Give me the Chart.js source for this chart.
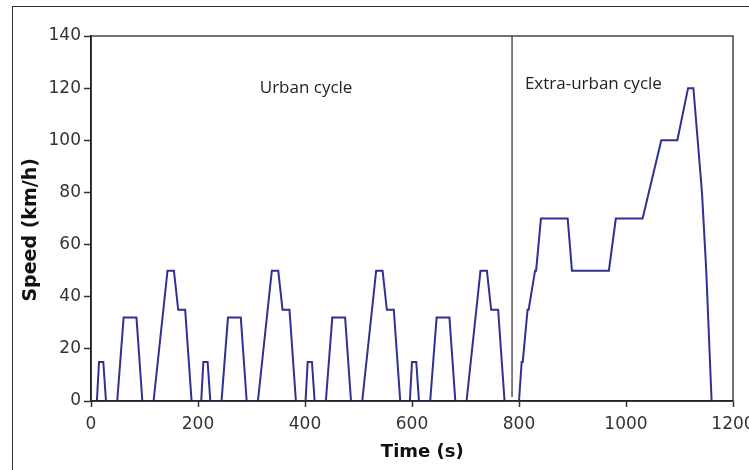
<!DOCTYPE html>
<html>
<head>
<meta charset="utf-8">
<script src="https://cdn.jsdelivr.net/npm/chart.js@4/dist/chart.umd.min.js"></script>
<style>
  html, body { margin: 0; padding: 0; background: #fff; overflow: hidden; }
  #wrap { position: relative; width: 749px; height: 470px; }
  #frame { position: absolute; left: 12px; top: 6px; width: 800px; height: 500px;
           border: 1.5px solid #333; box-sizing: border-box; pointer-events: none; }
  canvas { position: absolute; left: 0; top: 0; }
</style>
</head>
<body>
<div id="wrap">
  <div id="frame"></div>
  <canvas id="speedChart" width="749" height="470"></canvas>
</div>
<script>
// NEDC driving cycle: four urban (ECE-15) blocks followed by the extra-urban block
var timeSec = [
  0, 11, 15, 23, 28, 49, 61, 85, 96, 117, 143, 155, 163, 176, 188,
  195, 206, 210, 218, 223, 244, 256, 280, 291, 312, 338, 350, 358, 371, 383,
  390, 401, 405, 413, 418, 439, 451, 475, 486, 507, 533, 545, 553, 566, 578,
  585, 596, 600, 608, 613, 634, 646, 670, 681, 702, 728, 740, 748, 761, 773,
  780, 800, 805, 807, 816, 818, 830, 832, 841, 891, 899, 968, 981, 1031,
  1066, 1096, 1116, 1126, 1142, 1150, 1160, 1180
];
var speedKmh = [
  0, 0, 15, 15, 0, 0, 32, 32, 0, 0, 50, 50, 35, 35, 0,
  0, 0, 15, 15, 0, 0, 32, 32, 0, 0, 50, 50, 35, 35, 0,
  0, 0, 15, 15, 0, 0, 32, 32, 0, 0, 50, 50, 35, 35, 0,
  0, 0, 15, 15, 0, 0, 32, 32, 0, 0, 50, 50, 35, 35, 0,
  0, 0, 15, 15, 35, 35, 50, 50, 70, 70, 50, 50, 70, 70,
  100, 100, 120, 120, 80, 50, 0, 0
];

// boundary between the two parts of the cycle
var dividerTime = [787, 787];
var dividerSpeed = [1.5, 140];

var xTicks = [0, 200, 400, 600, 800, 1000, 1200];
var yTicks = [0, 20, 40, 60, 80, 100, 120, 140];

var sectionLabels = ['Urban cycle', 'Extra-urban cycle'];
var sectionLabelTime = [402, 811];
var sectionLabelSpeed = [120, 121.5];
var sectionLabelAlign = ['center', 'left'];

var xTitle = 'Time (s)';
var yTitle = 'Speed (km/h)';

function toPoints(xs, ys) {
  return xs.map(function(x, i) { return { x: x, y: ys[i] }; });
}

// axes redrawn on top of the trace, box around the plot, captions and axis titles
var plotDecor = {
  id: 'plotDecor',
  afterDraw: function(chart) {
    var ctx = chart.ctx;
    var a = chart.chartArea;
    var xs = chart.scales.x, ys = chart.scales.y;
    ctx.save();
    ctx.lineWidth = 1.5;
    ctx.strokeStyle = '#444';
    ctx.beginPath();
    ctx.moveTo(a.left, a.top);
    ctx.lineTo(a.right, a.top);
    ctx.lineTo(a.right, a.bottom);
    ctx.stroke();
    ctx.strokeStyle = '#222';
    ctx.beginPath();
    ctx.moveTo(a.left, a.top);
    ctx.lineTo(a.left, a.bottom);
    ctx.lineTo(a.right, a.bottom);
    ctx.stroke();

    ctx.fillStyle = '#222';
    ctx.font = '17px "Open Sans"';
    ctx.textBaseline = 'middle';
    sectionLabels.forEach(function(txt, i) {
      ctx.textAlign = sectionLabelAlign[i];
      ctx.fillText(txt, xs.getPixelForValue(sectionLabelTime[i]), ys.getPixelForValue(sectionLabelSpeed[i]));
    });

    ctx.fillStyle = '#111';
    ctx.textAlign = 'center';
    ctx.font = 'bold 18px "DejaVu Sans"';
    ctx.fillText(xTitle, a.left + (a.right - a.left) * 0.516, 452);
    ctx.translate(31, a.top + (a.bottom - a.top) * 0.531);
    ctx.rotate(-Math.PI / 2);
    ctx.font = 'bold 19px "DejaVu Sans"';
    ctx.fillText(yTitle, 0, 0);
    ctx.restore();
  }
};

document.addEventListener('DOMContentLoaded', function() {
  new Chart(document.getElementById('speedChart'), {
    type: 'line',
    data: {
      datasets: [{
        data: toPoints(timeSec, speedKmh),
        borderColor: '#2e3192',
        borderWidth: 2,
        pointRadius: 0,
        tension: 0,
        fill: false
      }, {
        data: toPoints(dividerTime, dividerSpeed),
        borderColor: '#555',
        borderWidth: 1.5,
        pointRadius: 0,
        fill: false
      }]
    },
    options: {
      responsive: false,
      animation: false,
      events: [],
      layout: { padding: { top: 36, right: 16, left: 0, bottom: 0 } },
      plugins: { legend: { display: false }, tooltip: { enabled: false } },
      scales: {
        x: {
          type: 'linear',
          min: 0,
          max: 1200,
          afterBuildTicks: function(scale) {
            scale.ticks = xTicks.map(function(v) { return { value: v }; });
          },
          afterFit: function(scale) {
            scale.height = 69;
            scale.paddingLeft = 0;
            scale.paddingRight = 0;
          },
          grid: { drawOnChartArea: false, drawTicks: true, tickLength: 6, tickColor: '#333', tickWidth: 1.5 },
          border: { display: true, color: '#222', width: 1.5 },
          ticks: {
            autoSkip: false, maxRotation: 0, padding: 7, color: '#333',
            font: { family: '"DejaVu Sans"', size: 17 },
            callback: function(v) { return String(v); }
          }
        },
        y: {
          min: 0,
          max: 140,
          afterBuildTicks: function(scale) {
            scale.ticks = yTicks.map(function(v) { return { value: v }; });
          },
          afterFit: function(scale) {
            scale.width = 91;
          },
          grid: { drawOnChartArea: false, drawTicks: true, tickLength: 7, tickColor: '#333', tickWidth: 1.5 },
          border: { display: true, color: '#222', width: 1.5 },
          ticks: {
            padding: 3, color: '#333',
            font: { family: '"DejaVu Sans"', size: 17 },
            callback: function(v) { return String(v); }
          }
        }
      }
    },
    plugins: [plotDecor]
  });
});
</script>
</body>
</html>
